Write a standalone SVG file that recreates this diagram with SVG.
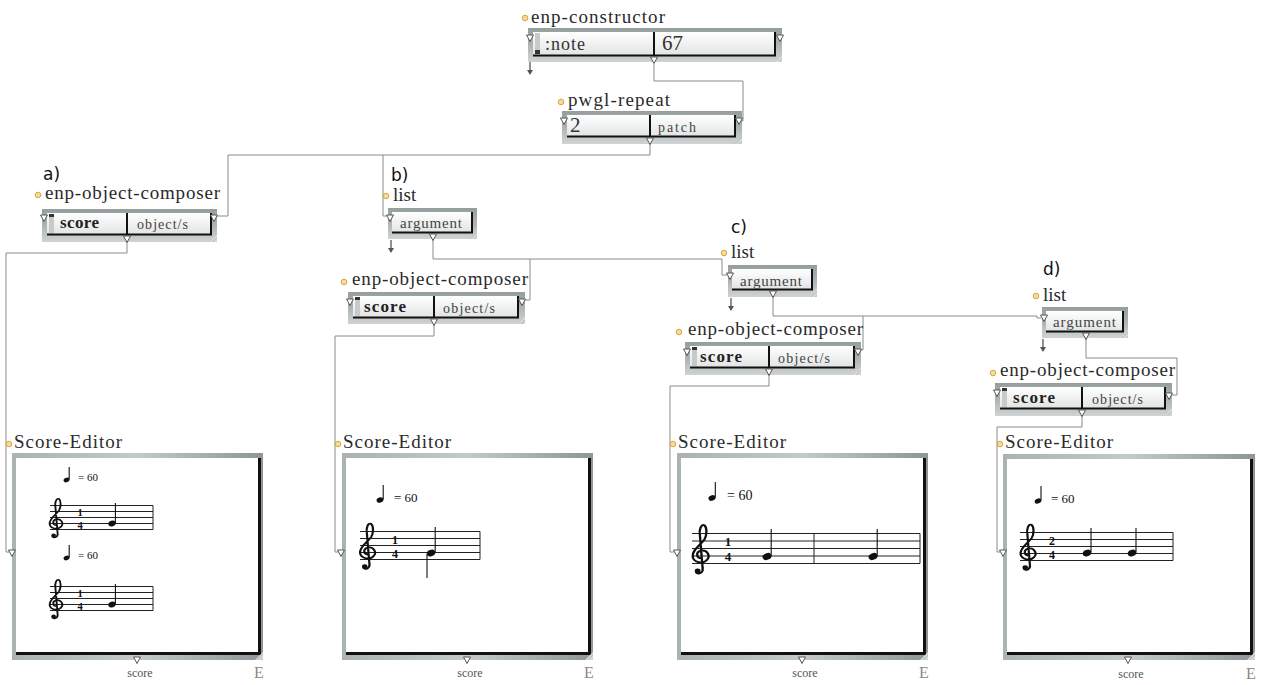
<svg xmlns="http://www.w3.org/2000/svg" width="1262" height="685" viewBox="0 0 1262 685">
<style>
.lbl{font-family:"Liberation Serif",serif;font-size:19px;fill:#2a2a2a}
.tag{font-family:"DejaVu Sans","Liberation Sans",sans-serif;font-size:17px;fill:#111}
.v15{font-family:"Liberation Serif",serif;font-size:18px;fill:#333}
.v19{font-family:"Liberation Serif",serif;font-size:21px;fill:#333}
.v13{font-family:"Liberation Serif",serif;font-size:14px;fill:#444}
.arg{font-family:"Liberation Serif",serif;font-size:15px;fill:#444}
.sc{font-family:"Liberation Serif",serif;font-size:17px;fill:#222;font-weight:bold}
.out{font-family:"Liberation Serif",serif;font-size:12px;fill:#555}
.E{font-family:"Liberation Serif",serif;font-size:16px;fill:#888}
.tmp{font-family:"Liberation Serif",serif;fill:#111}
.ts{font-family:"Liberation Serif",serif;font-weight:bold;fill:#111;text-anchor:middle}
.blk{stroke:#111;stroke-width:2;fill:none}
.wire{stroke:#8a8a8a;stroke-width:1;fill:none}
.staff{stroke:#222;stroke-width:1;fill:none}
.stem{stroke:#111;stroke-width:1.1}
.tri{fill:#fff;stroke:#555;stroke-width:1}
</style>
<defs>
<linearGradient id="fg" x1="0" y1="0" x2="0" y2="1"><stop offset="0" stop-color="#959e9e"/><stop offset="0.45" stop-color="#aab1b1"/><stop offset="1" stop-color="#d0d3d3"/></linearGradient>
<linearGradient id="pg" x1="0" y1="0" x2="0" y2="1"><stop offset="0" stop-color="#ffffff"/><stop offset="1" stop-color="#e2e4e4"/></linearGradient>
<linearGradient id="sg" x1="0" y1="0" x2="1" y2="0"><stop offset="0" stop-color="#aab2b2"/><stop offset="0.5" stop-color="#c4c9c9"/><stop offset="1" stop-color="#8f9696"/></linearGradient>
<pattern id="hatch" width="3" height="3" patternUnits="userSpaceOnUse" patternTransform="rotate(45)"><rect width="3" height="3" fill="#d8dbdb"/><line x1="0" y1="0" x2="0" y2="3" stroke="#9aa0a0" stroke-width="1"/></pattern>
<path id="tri" d="M-3.5,0 H3.5 L0,6.5 Z" class="tri"/>
<g id="outarr"><line x1="0" y1="0" x2="0" y2="9" stroke="#555" stroke-width="1.3"/><path d="M-3,8 H3 L0,13 Z" fill="#555"/></g>
<circle id="dot" r="2.8" fill="#f6dc9a" stroke="#d8a545" stroke-width="1"/>
<g id="clef"><path d="M13,33 C7,33 6,25 12,23 C19,21 23,30 19,35 C15,41 4,39 3,31 C2,22 12,15 16,8 C19,2 19,-8 16,-11 C12,-13 10,-4 11,2 L14,46 C15,52 10,55 7,52" fill="none" stroke="#111" stroke-width="2.6" stroke-linecap="round"/><circle cx="8.5" cy="50" r="3.2" fill="#111"/></g>
</defs>
<rect width="1262" height="685" fill="#fff"/>

<g id="connectors">
<path class="wire" d="M654,64 V81 H743 V121 H742"/>
<path class="wire" d="M650,144 V155 H228 V216 H217"/>
<path class="wire" d="M383,155 V216 H387"/>
<path class="wire" d="M127,242 V253 H6 V552 H9"/>
<path class="wire" d="M433,240 V259 H722 V275 H727"/>
<path class="wire" d="M530,259 V300 H525"/>
<path class="wire" d="M434,325 V336 H335 V552 H338"/>
<path class="wire" d="M773,297 V316 H1037 V318 H1041"/>
<path class="wire" d="M863,316 V350 H861"/>
<path class="wire" d="M769,375 V386 H670 V552 H674"/>
<path class="wire" d="M1086,339 V358 H1177 V395 H1172"/>
<path class="wire" d="M1082,416 V427 H997 V552 H1000"/>
</g>

<g id="enp-constructor">
<use href="#dot" x="525" y="18"/>
<text class="lbl" x="531" y="23" textLength="134" lengthAdjust="spacing">enp-constructor</text>
<rect x="528" y="28" width="254" height="34" fill="url(#fg)"/>
<rect x="533" y="32" width="242" height="23" fill="url(#pg)"/>
<rect x="535" y="33" width="5" height="21" fill="#c6caca"/><rect x="535" y="50" width="5" height="4" fill="#333"/>
<path class="blk" d="M533,55.5 H776 M775,32 V56 M654,32 V56"/>
<polygon points="782,62 774,62 782,54" fill="url(#hatch)"/>
<text class="v15" x="545" y="50" textLength="40" lengthAdjust="spacing">:note</text>
<text class="v19" x="662" y="50">67</text>
<use href="#tri" x="530" y="35"/><use href="#tri" x="780" y="35"/><use href="#tri" x="654" y="57"/>
<use href="#outarr" x="530" y="62"/>
</g>

<g id="pwgl-repeat">
<use href="#dot" x="561" y="102"/>
<text class="lbl" x="568" y="106" textLength="102" lengthAdjust="spacing">pwgl-repeat</text>
<rect x="562" y="111" width="180" height="33" fill="url(#fg)"/>
<rect x="567" y="115" width="168" height="21" fill="url(#pg)"/>
<path class="blk" d="M567,136.5 H736 M735,115 V137 M650,115 V137"/>
<polygon points="742,144 734,144 742,136" fill="url(#hatch)"/>
<text class="v19" x="570" y="132">2</text>
<text class="v13" x="658" y="132" textLength="38" lengthAdjust="spacing">patch</text>
<use href="#tri" x="564" y="118"/><use href="#tri" x="739" y="118"/><use href="#tri" x="650" y="138"/>
</g>

<g id="composer-a">
<text class="tag" x="43" y="180">a)</text>
<use href="#dot" x="38" y="195"/>
<text class="lbl" x="45" y="199" textLength="175" lengthAdjust="spacing">enp-object-composer</text>
<rect x="42" y="209" width="175" height="33" fill="url(#fg)"/>
<rect x="47" y="213" width="164" height="21" fill="url(#pg)"/>
<rect x="49" y="214" width="5" height="19" fill="#c6caca"/><rect x="49" y="214" width="5" height="3" fill="#333"/>
<path class="blk" d="M47,234.5 H212 M211,213 V235 M127,213 V235"/>
<polygon points="217,242 209,242 217,234" fill="url(#hatch)"/>
<text class="sc" x="60" y="228" textLength="39" lengthAdjust="spacing">score</text>
<text class="v13" x="137" y="229" textLength="51" lengthAdjust="spacing">object/s</text>
<use href="#tri" x="44" y="215"/><use href="#tri" x="214" y="215"/><use href="#tri" x="127" y="236"/>
</g>

<g id="list-b">
<text class="tag" x="391" y="181">b)</text>
<use href="#dot" x="386" y="196"/>
<text class="lbl" x="393" y="201">list</text>
<rect x="388" y="208" width="89" height="31" fill="url(#fg)"/>
<rect x="392" y="212" width="80" height="20" fill="url(#pg)"/>
<path class="blk" d="M392,232.5 H473 M472,212 V233"/>
<polygon points="477,239 469,239 477,231" fill="url(#hatch)"/>
<text class="arg" x="400" y="228" textLength="62" lengthAdjust="spacing">argument</text>
<use href="#tri" x="390" y="215"/><use href="#tri" x="433" y="234"/>
<use href="#outarr" x="391" y="240"/>
</g>

<g id="composer-b">
<use href="#dot" x="344" y="282"/>
<text class="lbl" x="352" y="285" textLength="176" lengthAdjust="spacing">enp-object-composer</text>
<rect x="348" y="292" width="177" height="32" fill="url(#fg)"/>
<rect x="353" y="296" width="165" height="21" fill="url(#pg)"/>
<rect x="355" y="297" width="5" height="19" fill="#c6caca"/><rect x="355" y="297" width="5" height="3" fill="#333"/>
<path class="blk" d="M353,317.5 H519 M518,296 V318 M434,296 V318"/>
<polygon points="525,324 517,324 525,316" fill="url(#hatch)"/>
<text class="sc" x="364" y="312" textLength="42" lengthAdjust="spacing">score</text>
<text class="v13" x="443" y="313" textLength="52" lengthAdjust="spacing">object/s</text>
<use href="#tri" x="350" y="299"/><use href="#tri" x="522" y="299"/><use href="#tri" x="434" y="319"/>
</g>

<g id="list-c">
<text class="tag" x="731" y="233">c)</text>
<use href="#dot" x="724" y="253"/>
<text class="lbl" x="731" y="258">list</text>
<rect x="728" y="265" width="89" height="32" fill="url(#fg)"/>
<rect x="732" y="269" width="80" height="20" fill="url(#pg)"/>
<path class="blk" d="M732,289.5 H813 M812,269 V290"/>
<polygon points="817,297 809,297 817,289" fill="url(#hatch)"/>
<text class="arg" x="740" y="286" textLength="62" lengthAdjust="spacing">argument</text>
<use href="#tri" x="730" y="273"/><use href="#tri" x="773" y="291"/>
<use href="#outarr" x="731" y="298"/>
</g>

<g id="composer-c">
<use href="#dot" x="679" y="332"/>
<text class="lbl" x="688" y="335" textLength="175" lengthAdjust="spacing">enp-object-composer</text>
<rect x="685" y="342" width="176" height="33" fill="url(#fg)"/>
<rect x="690" y="346" width="164" height="21" fill="url(#pg)"/>
<rect x="692" y="347" width="5" height="19" fill="#c6caca"/><rect x="692" y="347" width="5" height="3" fill="#333"/>
<path class="blk" d="M690,367.5 H855 M854,346 V368 M769,346 V368"/>
<polygon points="861,375 853,375 861,367" fill="url(#hatch)"/>
<text class="sc" x="700" y="362" textLength="42" lengthAdjust="spacing">score</text>
<text class="v13" x="778" y="363" textLength="52" lengthAdjust="spacing">object/s</text>
<use href="#tri" x="687" y="349"/><use href="#tri" x="858" y="349"/><use href="#tri" x="769" y="369"/>
</g>

<g id="list-d">
<text class="tag" x="1043" y="275">d)</text>
<use href="#dot" x="1036" y="296"/>
<text class="lbl" x="1043" y="301">list</text>
<rect x="1042" y="307" width="86" height="31" fill="url(#fg)"/>
<rect x="1046" y="311" width="77" height="20" fill="url(#pg)"/>
<path class="blk" d="M1046,331.5 H1124 M1123,311 V332"/>
<polygon points="1128,338 1120,338 1128,330" fill="url(#hatch)"/>
<text class="arg" x="1053" y="327" textLength="63" lengthAdjust="spacing">argument</text>
<use href="#tri" x="1044" y="315"/><use href="#tri" x="1086" y="333"/>
<use href="#outarr" x="1043" y="339"/>
</g>

<g id="composer-d">
<use href="#dot" x="993" y="373"/>
<text class="lbl" x="1000" y="376" textLength="175" lengthAdjust="spacing">enp-object-composer</text>
<rect x="995" y="383" width="177" height="33" fill="url(#fg)"/>
<rect x="1000" y="387" width="165" height="21" fill="url(#pg)"/>
<rect x="1002" y="388" width="5" height="19" fill="#c6caca"/><rect x="1002" y="388" width="5" height="3" fill="#333"/>
<path class="blk" d="M1000,408.5 H1166 M1165,387 V409 M1082,387 V409"/>
<polygon points="1172,416 1164,416 1172,408" fill="url(#hatch)"/>
<text class="sc" x="1013" y="403" textLength="42" lengthAdjust="spacing">score</text>
<text class="v13" x="1092" y="404" textLength="51" lengthAdjust="spacing">object/s</text>
<use href="#tri" x="997" y="390"/><use href="#tri" x="1169" y="393"/><use href="#tri" x="1082" y="410"/>
</g>

<g id="score-editor-a">
<use href="#dot" x="9" y="444"/>
<text class="lbl" x="14" y="448" textLength="108" lengthAdjust="spacing">Score-Editor</text>
<rect x="12" y="453" width="251" height="207" fill="url(#sg)"/>
<rect x="16" y="458" width="243" height="195" fill="#fff"/>
<path d="M16,653.5 H261 M259.5,458 V655" stroke="#111" stroke-width="3" fill="none"/>
<polygon points="263,660 255,660 263,652" fill="url(#hatch)"/>
<use href="#tri" x="12" y="550"/><use href="#tri" x="137" y="657"/>
<text class="out" x="140" y="677" text-anchor="middle">score</text>
<text class="E" x="254" y="678">E</text>
<ellipse cx="66.5" cy="480" rx="3" ry="2.2" transform="rotate(-20 66.5 480)" fill="#111"/><line class="stem" x1="69.2" y1="479.5" x2="69.2" y2="467"/>
<text class="tmp" x="78" y="481" font-size="11">= 60</text>
<path class="staff" d="M50,505.5 H153 M50,511.5 H153 M50,517.5 H153 M50,523.5 H153 M50,529.5 H153 M153,505.5 V529.5"/>
<use href="#clef" transform="translate(47.5,505.5) scale(0.72,0.6)"/>
<text class="ts" x="80" y="516" font-size="10.5">1</text><text class="ts" x="80" y="528.5" font-size="10.5">4</text>
<ellipse cx="112" cy="523.5" rx="3.8" ry="2.8" transform="rotate(-20 112 523.5)" fill="#111"/><line class="stem" x1="115.4" y1="523" x2="115.4" y2="503"/>
<ellipse cx="66.5" cy="558" rx="3" ry="2.2" transform="rotate(-20 66.5 558)" fill="#111"/><line class="stem" x1="69.2" y1="557.5" x2="69.2" y2="545"/>
<text class="tmp" x="78" y="559" font-size="11">= 60</text>
<path class="staff" d="M50,586.5 H153 M50,592.5 H153 M50,598.5 H153 M50,604.5 H153 M50,610.5 H153 M153,586.5 V610.5"/>
<use href="#clef" transform="translate(47.5,586.5) scale(0.72,0.6)"/>
<text class="ts" x="80" y="597" font-size="10.5">1</text><text class="ts" x="80" y="609.5" font-size="10.5">4</text>
<ellipse cx="112" cy="604.5" rx="3.8" ry="2.8" transform="rotate(-20 112 604.5)" fill="#111"/><line class="stem" x1="115.4" y1="604" x2="115.4" y2="584"/>
</g>

<g id="score-editor-b">
<use href="#dot" x="338" y="444"/>
<text class="lbl" x="343" y="448" textLength="108" lengthAdjust="spacing">Score-Editor</text>
<rect x="342" y="453" width="251" height="207" fill="url(#sg)"/>
<rect x="346" y="458" width="243" height="195" fill="#fff"/>
<path d="M346,653.5 H591 M589.5,458 V655" stroke="#111" stroke-width="3" fill="none"/>
<polygon points="593,660 585,660 593,652" fill="url(#hatch)"/>
<use href="#tri" x="341" y="550"/><use href="#tri" x="467" y="657"/>
<text class="out" x="470" y="677" text-anchor="middle">score</text>
<text class="E" x="584" y="678">E</text>
<ellipse cx="380" cy="500" rx="3.5" ry="2.6" transform="rotate(-20 380 500)" fill="#111"/><line class="stem" x1="383.2" y1="499.5" x2="383.2" y2="485"/>
<text class="tmp" x="394" y="502" font-size="13">= 60</text>
<path class="staff" d="M360,531.5 H480 M360,538.5 H480 M360,545.5 H480 M360,552.5 H480 M360,559.5 H480 M480,531.5 V559.5"/>
<use href="#clef" transform="translate(357.5,531.5) scale(0.85,0.7)"/>
<text class="ts" x="395" y="543.5" font-size="12">1</text><text class="ts" x="395" y="557.5" font-size="12">4</text>
<ellipse cx="431" cy="553" rx="4.4" ry="3.2" transform="rotate(-20 431 553)" fill="#111"/>
<line class="stem" x1="435.2" y1="552" x2="435.2" y2="527"/><line class="stem" x1="427" y1="554" x2="427" y2="578"/>
</g>

<g id="score-editor-c">
<use href="#dot" x="673" y="444"/>
<text class="lbl" x="678" y="448" textLength="108" lengthAdjust="spacing">Score-Editor</text>
<rect x="677" y="453" width="251" height="207" fill="url(#sg)"/>
<rect x="681" y="458" width="243" height="195" fill="#fff"/>
<path d="M681,653.5 H926 M924.5,458 V655" stroke="#111" stroke-width="3" fill="none"/>
<polygon points="928,660 920,660 928,652" fill="url(#hatch)"/>
<use href="#tri" x="677" y="550"/><use href="#tri" x="802" y="657"/>
<text class="out" x="805" y="677" text-anchor="middle">score</text>
<text class="E" x="919" y="678">E</text>
<ellipse cx="712" cy="498" rx="3.6" ry="2.7" transform="rotate(-20 712 498)" fill="#111"/><line class="stem" x1="715.3" y1="497.5" x2="715.3" y2="482"/>
<text class="tmp" x="727" y="500" font-size="14">= 60</text>
<path class="staff" d="M692,533.5 H920 M692,541 H920 M692,548.5 H920 M692,556 H920 M692,563.5 H920 M814,533.5 V563.5 M920,533.5 V563.5"/>
<use href="#clef" transform="translate(690,533.5) scale(0.9,0.75)"/>
<text class="ts" x="728" y="546" font-size="13">1</text><text class="ts" x="728" y="561" font-size="13">4</text>
<ellipse cx="767" cy="556.5" rx="4.6" ry="3.3" transform="rotate(-20 767 556.5)" fill="#111"/><line class="stem" x1="771.2" y1="556" x2="771.2" y2="529"/>
<ellipse cx="873" cy="556.5" rx="4.6" ry="3.3" transform="rotate(-20 873 556.5)" fill="#111"/><line class="stem" x1="877.2" y1="556" x2="877.2" y2="529"/>
</g>

<g id="score-editor-d">
<use href="#dot" x="1000" y="444"/>
<text class="lbl" x="1005" y="448" textLength="108" lengthAdjust="spacing">Score-Editor</text>
<rect x="1003" y="454" width="252" height="206" fill="url(#sg)"/>
<rect x="1007" y="459" width="244" height="194" fill="#fff"/>
<path d="M1007,653.5 H1253 M1251.5,459 V655" stroke="#111" stroke-width="3" fill="none"/>
<polygon points="1255,660 1247,660 1255,652" fill="url(#hatch)"/>
<use href="#tri" x="1003" y="550"/><use href="#tri" x="1128" y="657"/>
<text class="out" x="1131" y="678" text-anchor="middle">score</text>
<text class="E" x="1246" y="679">E</text>
<ellipse cx="1038" cy="501" rx="3.4" ry="2.5" transform="rotate(-20 1038 501)" fill="#111"/><line class="stem" x1="1041" y1="500.5" x2="1041" y2="486"/>
<text class="tmp" x="1051" y="503" font-size="13">= 60</text>
<path class="staff" d="M1020,532.5 H1173 M1020,539.5 H1173 M1020,546.5 H1173 M1020,553.5 H1173 M1020,560.5 H1173 M1173,532.5 V560.5"/>
<use href="#clef" transform="translate(1018,532.5) scale(0.85,0.7)"/>
<text class="ts" x="1052" y="544.5" font-size="12">2</text><text class="ts" x="1052" y="558.5" font-size="12">4</text>
<ellipse cx="1087" cy="553" rx="4.4" ry="3.2" transform="rotate(-20 1087 553)" fill="#111"/><line class="stem" x1="1091" y1="552.5" x2="1091" y2="528"/>
<ellipse cx="1132" cy="553" rx="4.4" ry="3.2" transform="rotate(-20 1132 553)" fill="#111"/><line class="stem" x1="1136" y1="552.5" x2="1136" y2="528"/>
</g>
</svg>
